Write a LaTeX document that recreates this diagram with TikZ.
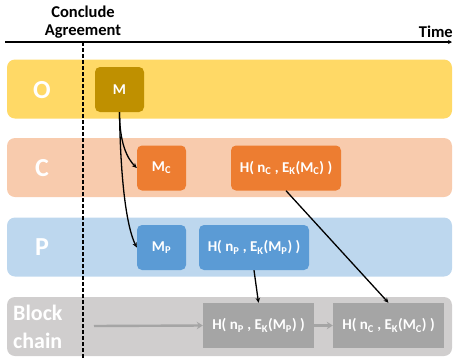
\documentclass[tikz,border=0pt]{standalone}
\usepackage{fontspec}
\setmainfont{Carlito}[BoldFont=* Bold]
\usepackage{tikz}
\usepackage{xcolor}
\usetikzlibrary{positioning,calc,arrows.meta}
\definecolor{laneO}{HTML}{FFD966}
\definecolor{laneC}{HTML}{F8CBAD}
\definecolor{laneP}{HTML}{BDD7EE}
\definecolor{laneB}{HTML}{D0CECE}
\definecolor{boxO}{HTML}{BF9000}
\definecolor{boxC}{HTML}{ED7D31}
\definecolor{boxP}{HTML}{5B9BD5}
\definecolor{boxB}{HTML}{A5A5A5}
\tikzset{
lane/.style={rounded corners=8pt, minimum width=445pt, minimum height=59pt, inner sep=0pt},
lanelabel/.style={text=white, font=\bfseries\fontsize{26}{26}\selectfont},
msgbox/.style={rounded corners=5pt, text=white, inner sep=0pt, minimum height=45pt,
  font=\bfseries\fontsize{15}{15}\selectfont},
chainbox/.style={fill=boxB, text=white, inner sep=0pt, minimum width=111pt, minimum height=45pt,
  font=\bfseries\fontsize{15}{15}\selectfont},
flow/.style={-{Stealth[length=5pt,width=4.5pt]}, line width=1.3pt},
chainflow/.style={-{Stealth[length=6pt,width=7.5pt]}, line width=2.4pt, boxB}}
\newcommand{\hsym}[2]{H( n\textsubscript{#1} , E\textsubscript{K}(M\textsubscript{#2}) )}

\begin{document}
\begin{tikzpicture}[x=1pt,y=-1pt]
        \useasboundingbox (0,0) rectangle (453,360);
        \coordinate (T0) at (5,42);
        \coordinate (T1) at (452,42);
        \coordinate (A0) at (83,42);
        \coordinate (A1) at (83,358);
        \coordinate (S) at (94,326);
        % lanes
        \node[lane, fill=laneO] (O) at (229.5,89) {};
        \node[lane, fill=laneC] (C) at (229.5,167.5) {};
        \node[lane, fill=laneP] (P) at (229.5,247) {};
        \node[lane, fill=laneB] (B) at (229.5,326.5) {};
        \node[lanelabel] (lo) at (42,90) {O};
        \node[lanelabel] (lc) at (42,168) {C};
        \node[lanelabel] (lp) at (42,247) {P};
        \node[text=white, align=left, anchor=west, inner sep=0pt,
              font=\bfseries\fontsize{22}{28}\selectfont] (lb) at (13,327) {Block\\chain};
        % time line
        \draw[line width=1.2pt, -{Stealth[length=4pt,width=4pt]}] (T0) -- (T1);
        \node[anchor=base east, inner sep=0pt, font=\bfseries\fontsize{16.5}{16.5}\selectfont] (time) at (453,37) {Time};
        \node[align=center, inner sep=0pt, font=\bfseries\fontsize{16.5}{18}\selectfont] (agr) at (83,22) {Conclude\\Agreement};
        \draw[line width=1.2pt, dash pattern=on 4pt off 2pt] (A0) -- (A1);
        % messages
        \node[msgbox, fill=boxO, minimum width=49pt] (m) at (119.5,89.5) {M};
        \node[msgbox, fill=boxC, minimum width=49pt] (mc) at (161.5,168) {M\textsubscript{C}};
        \node[msgbox, fill=boxC, minimum width=110pt] (hc) at (286,168) {\hsym{C}{C}};
        \node[msgbox, fill=boxP, minimum width=49pt] (mp) at (161.5,247.5) {M\textsubscript{P}};
        \node[msgbox, fill=boxP, minimum width=110pt] (hp) at (254,247.5) {\hsym{P}{P}};
        \node[chainbox] (bp) at (258.5,325.5) {\hsym{P}{P}};
        \node[chainbox] (bc) at (388.5,325.5) {\hsym{C}{C}};
        \draw[flow] (m.south) .. controls +(0,30) and +(-10,-10) .. (mc.west);
        \draw[flow] (m.south) .. controls +(1,70) and +(-10,-20) .. (mp.west);
        \draw[flow] (hc.south) -- (bc.north);
        \draw[flow] (hp.south) -- (bp.north);
        \draw[chainflow] (S) -- (bp.west);
        \draw[chainflow] (bp.east) -- (bc.west);
    \end{tikzpicture}
\end{document}
